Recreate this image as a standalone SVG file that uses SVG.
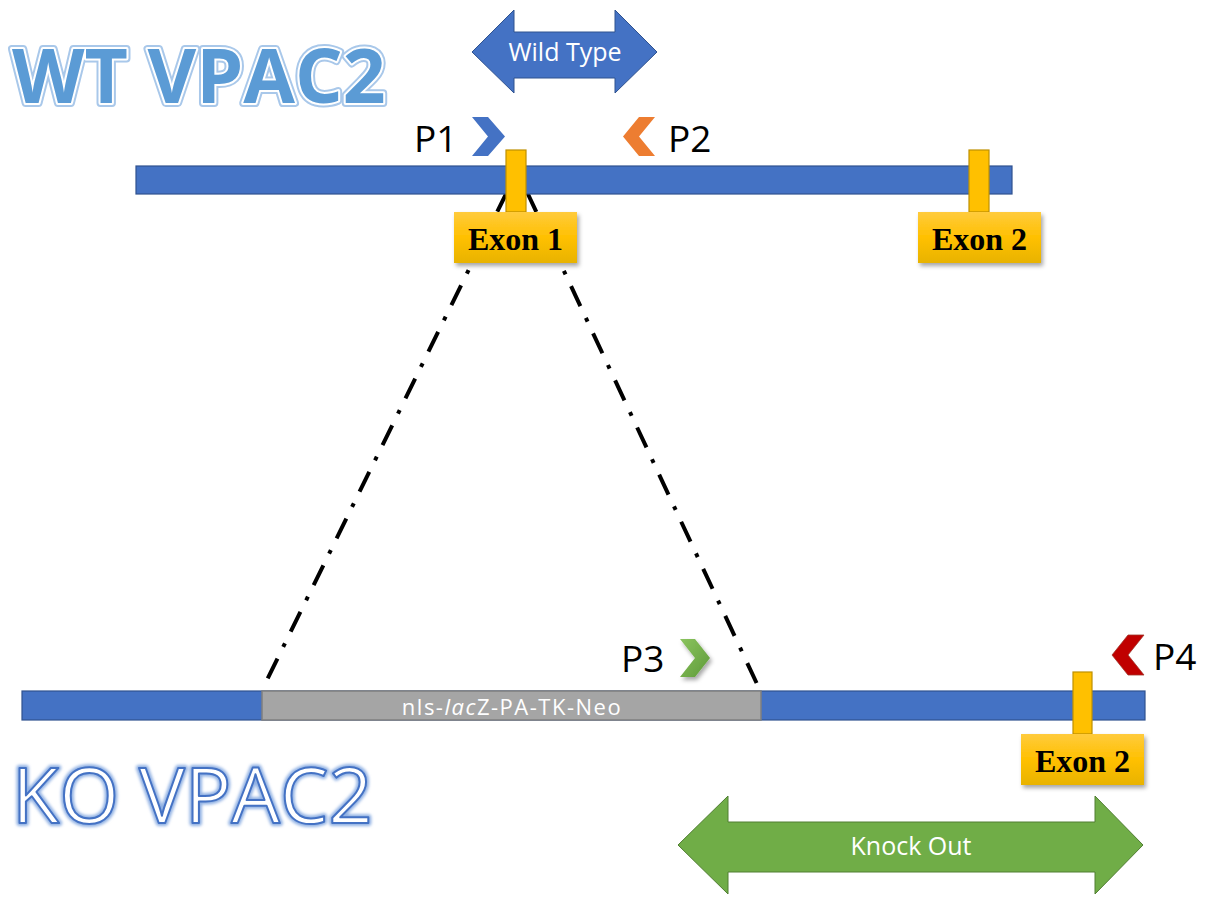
<svg xmlns="http://www.w3.org/2000/svg" width="1209" height="897" viewBox="0 0 1209 897">
<defs>
<linearGradient id="gold" x1="0" y1="0" x2="0" y2="1">
<stop offset="0" stop-color="#FFCB3D"/>
<stop offset="0.5" stop-color="#FFC000"/>
<stop offset="1" stop-color="#E8B300"/>
</linearGradient>
<linearGradient id="green" x1="0" y1="0" x2="1" y2="1">
<stop offset="0" stop-color="#8BC45F"/>
<stop offset="1" stop-color="#5E9A38"/>
</linearGradient>
<filter id="shadow" x="-20%" y="-20%" width="140%" height="150%">
<feDropShadow dx="2" dy="3" stdDeviation="2" flood-color="#000" flood-opacity="0.35"/>
</filter>
<filter id="glow" x="-5%" y="-10%" width="110%" height="120%">
<feGaussianBlur stdDeviation="1.5"/>
</filter>
</defs>
<style>
.bar{fill:#4472C4;stroke:#2F528F;stroke-width:1.2}
.ins{fill:#A5A5A5;stroke:#7F7F7F;stroke-width:1.5}
.stem{fill:#FFC000;stroke:#BF9000;stroke-width:1.2}
.exbox{fill:url(#gold);filter:url(#shadow)}
.extxt{font-family:"Liberation Serif",serif;font-weight:bold;font-size:32px;fill:#000;text-anchor:middle}
.plab{font-family:"Open Sans",sans-serif;font-size:37px;fill:#000}
.arrtxt{font-family:"Open Sans",sans-serif;fill:#fff;text-anchor:middle}
.dd{fill:none;stroke:#000;stroke-width:4;stroke-dasharray:22 13 4 13}
.big{font-family:"Open Sans",sans-serif}
</style>

<g id="connectors">
<line class="dd" x1="507" y1="192" x2="262" y2="690"/>
<line class="dd" x1="527" y1="192" x2="758" y2="686"/>
</g>

<g id="wt-title">
<text class="big" x="12" y="103" font-size="75" font-weight="bold" fill="none" stroke="#A9C8EA" stroke-width="8" stroke-linejoin="round">WT VPAC2</text>
<text class="big" x="12" y="103" font-size="75" font-weight="bold" fill="none" stroke="#FFFFFF" stroke-width="4" stroke-linejoin="round">WT VPAC2</text>
<text class="big" x="12" y="103" font-size="75" font-weight="bold" fill="#5B9BD5">WT VPAC2</text>
</g>

<g id="wild-type-arrow">
<polygon points="472,52 514,10 514,32 615,32 615,10 657,52 615,93 615,78 514,78 514,93" fill="#4472C4" stroke="#2F528F" stroke-width="1"/>
<text class="arrtxt" x="565" y="61" font-size="25">Wild Type</text>
</g>

<g id="wt-bar">
<rect class="bar" x="136" y="166" width="876" height="28"/>
</g>

<g id="p1">
<polygon points="472,117 488,117 505,136.5 488,156 472,156 488,136.5" fill="#4472C4"/>
<text class="plab" x="414" y="152">P1</text>
</g>
<g id="p2">
<polygon points="655,117 639,117 623,136.5 639,156 655,156 639,136.5" fill="#ED7D31"/>
<text class="plab" x="668" y="152">P2</text>
</g>

<g id="exon1">
<rect class="stem" x="506" y="150" width="20" height="62"/>
<rect class="exbox" x="454" y="212" width="123" height="51"/>
<text class="extxt" x="515.5" y="250">Exon 1</text>
</g>

<g id="exon2-wt">
<rect class="stem" x="969" y="150" width="20" height="62"/>
<rect class="exbox" x="918" y="212" width="123" height="51"/>
<text class="extxt" x="979.5" y="250">Exon 2</text>
</g>

<g id="ko-bar">
<rect class="bar" x="22" y="691" width="1123" height="29"/>
<rect class="ins" x="262" y="691" width="499" height="29"/>
<text class="arrtxt" x="512" y="715" font-size="22" letter-spacing="1.5" fill="#F2F2F2">nls-<tspan font-style="italic">lac</tspan>Z-PA-TK-Neo</text>
</g>

<g id="p3">
<polygon points="680,639 695,639 710,658 695,677 680,677 695,658" fill="url(#green)" filter="url(#shadow)"/>
<text class="plab" x="621" y="672">P3</text>
</g>
<g id="p4">
<polygon points="1144,635 1128,635 1112,655 1128,675 1144,675 1128,655" fill="#C00000" stroke="#A0352A" stroke-width="0.8"/>
<text class="plab" x="1153" y="670">P4</text>
</g>

<g id="exon2-ko">
<rect class="stem" x="1073" y="672" width="19" height="62"/>
<rect class="exbox" x="1021" y="734" width="123" height="51"/>
<text class="extxt" x="1082.5" y="772">Exon 2</text>
</g>

<g id="ko-title">
<text class="big" x="12" y="823" font-size="77" fill="none" stroke="#8FB0E3" stroke-width="6" stroke-linejoin="round" filter="url(#glow)">KO VPAC2</text>
<text class="big" x="12" y="823" font-size="77" fill="#FFFFFF" stroke="#4472C4" stroke-width="2" stroke-linejoin="round">KO VPAC2</text>
</g>

<g id="knock-out-arrow">
<polygon points="678,845 728,796 728,822 1095,822 1095,796 1143,845 1095,894 1095,872 728,872 728,894" fill="#70AD47" stroke="#507E32" stroke-width="1"/>
<text class="arrtxt" x="911" y="855" font-size="25">Knock Out</text>
</g>
</svg>
